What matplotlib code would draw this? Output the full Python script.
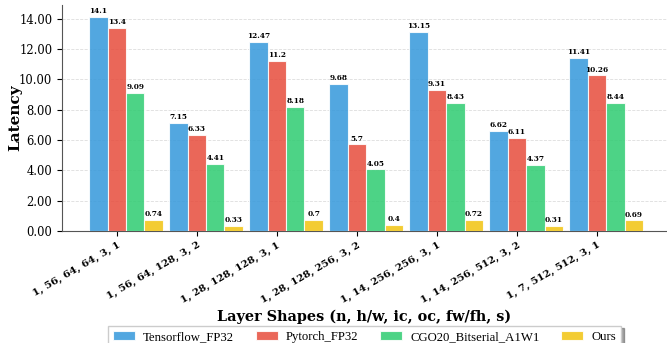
import numpy as np
import matplotlib
matplotlib.use("Agg")
import matplotlib.pyplot as plt

# latency per layer shape for each implementation
shapes = ["1, 56, 64, 64, 3, 1", "1, 56, 64, 128, 3, 2", "1, 28, 128, 128, 3, 1",
          "1, 28, 128, 256, 3, 2", "1, 14, 256, 256, 3, 1", "1, 14, 256, 512, 3, 2",
          "1, 7, 512, 512, 3, 1"]
tensorflow = [14.1, 7.15, 12.47, 9.68, 13.15, 6.62, 11.41]
pytorch = [13.4, 6.33, 11.2, 5.7, 9.31, 6.11, 10.26]
bitserial = [9.09, 4.41, 8.18, 4.05, 8.43, 4.37, 8.44]
ours = [0.74, 0.33, 0.7, 0.4, 0.72, 0.31, 0.69]

names = ["Tensorflow_FP32", "Pytorch_FP32", "CGO20_Bitserial_A1W1", "Ours"]
colors = ["#3498db", "#e74c3c", "#2ecc71", "#f1c40f"]

plt.rcParams['font.family'] = 'DejaVu Serif'

fig = plt.figure(figsize=(6.67, 3.43), dpi=100)
ax = fig.add_axes([0.093, 0.327, 0.907, 0.658])

x = np.arange(len(shapes))
w = 0.23
for i, (vals, name, c) in enumerate(zip([tensorflow, pytorch, bitserial, ours], names, colors)):
    pos = x + (i - 1.5) * w
    ax.bar(pos, vals, w, color=c, alpha=0.85, edgecolor='white', linewidth=0.8,
           label=name, zorder=3)
    for px, v in zip(pos, vals):
        ax.text(px, v + 0.12, str(v), ha='center', va='bottom', fontsize=5.3,
                fontweight='bold', zorder=4)

ax.set_xlim(-0.8, 6.76)
ax.set_ylim(0, 14.9)
ax.set_yticks(np.arange(0, 15, 2))
ax.yaxis.set_major_formatter(matplotlib.ticker.FormatStrFormatter('%.2f'))
ax.tick_params(axis='y', labelsize=8.3)
# tick marks sit a little left of the group centre
ax.set_xticks(x - 0.11)
ax.set_xticklabels(shapes, rotation=30, ha='right', rotation_mode='anchor',
                   fontsize=7.4, fontweight='bold')
ax.grid(axis='y', linestyle='--', color='#dddddd', linewidth=0.6, zorder=0)
ax.spines['top'].set_visible(False)
ax.spines['right'].set_visible(False)
for s in ['left', 'bottom']:
    ax.spines[s].set_color('#555555')

ax.set_ylabel('Latency', fontsize=11, fontweight='bold')
ax.yaxis.set_label_coords(-0.066, 0.5)
ax.set_xlabel('Layer Shapes (n, h/w, ic, oc, fw/fh, s)', fontsize=10.4, fontweight='bold',
              labelpad=3)

leg = ax.legend(loc='upper center', bbox_to_anchor=(0.5, -0.42), ncol=4,
                prop={'family': 'Liberation Serif', 'size': 9.2}, frameon=True,
                shadow=True, fancybox=False, handlelength=1.7, handletextpad=0.65,
                columnspacing=1.7, borderaxespad=0)

fig.savefig('out.png', dpi=100)
